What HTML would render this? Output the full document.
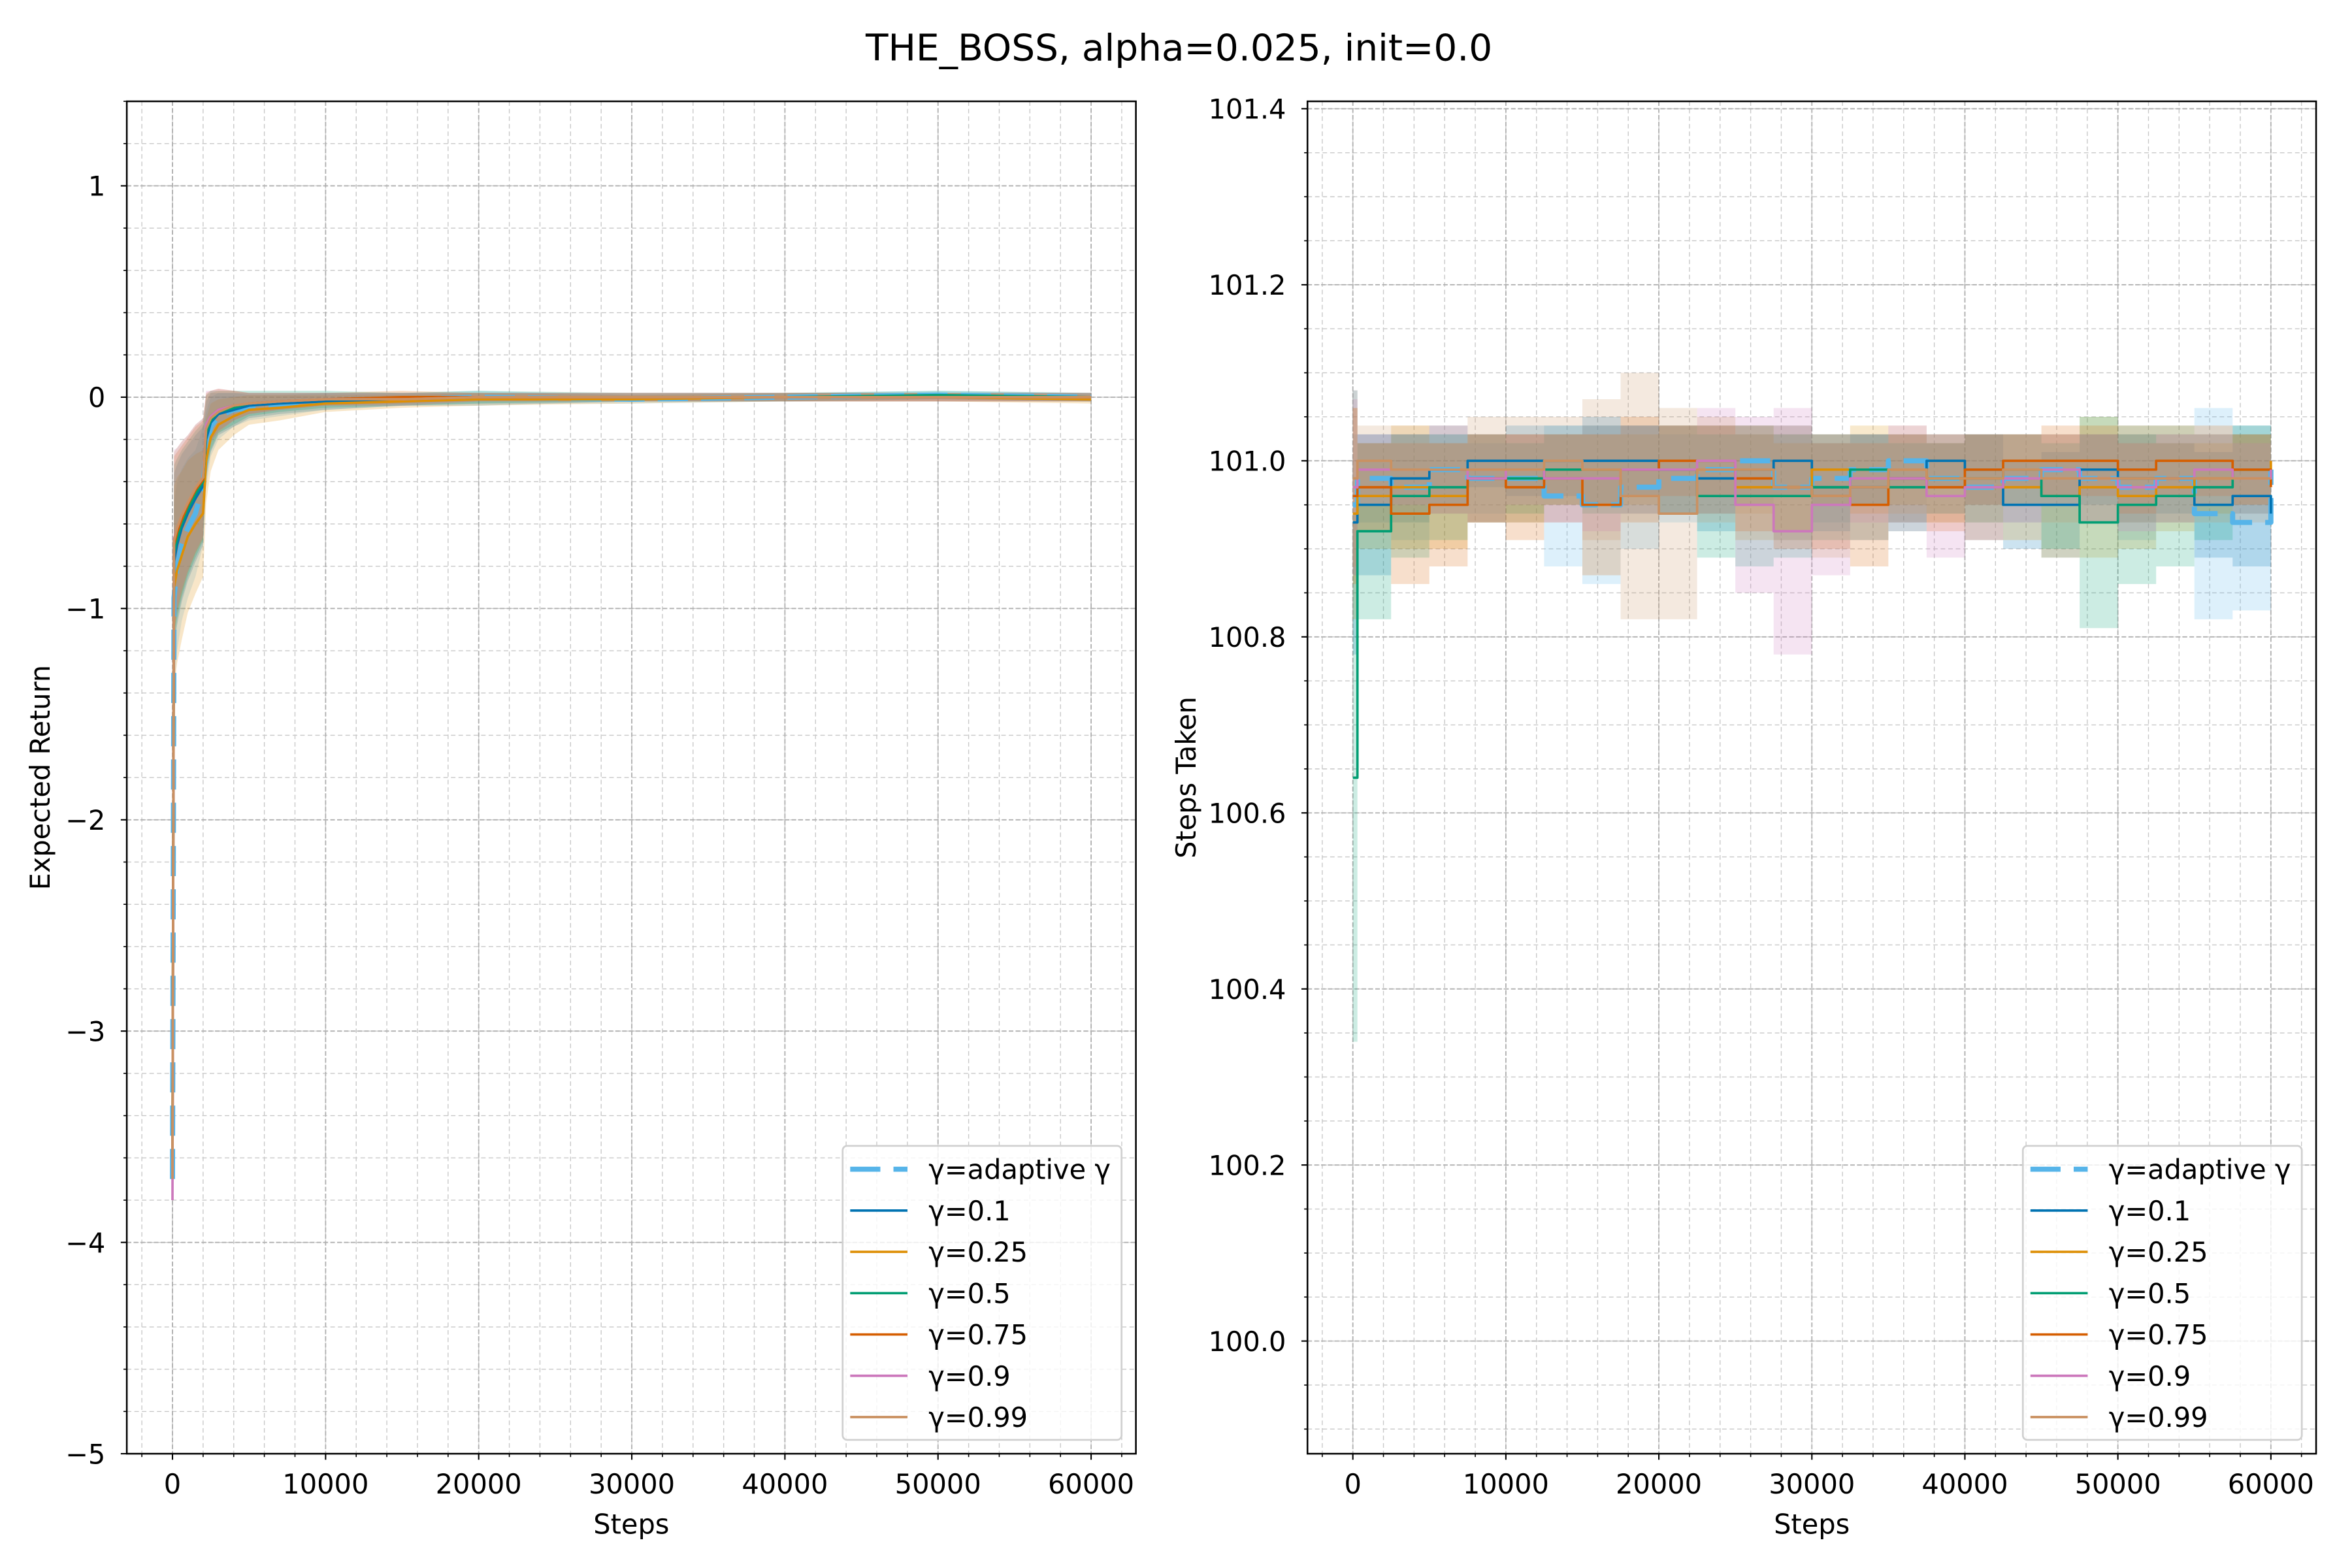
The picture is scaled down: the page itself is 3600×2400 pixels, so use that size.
<!DOCTYPE html>
<html><head><meta charset="utf-8"><style>html,body{margin:0;padding:0;background:#fff}svg{display:block}text{font-family:"DejaVu Sans","Liberation Sans",sans-serif}</style></head>
<body>
<svg id="fig" width="3600" height="2400" viewBox="0 0 1560 1040" xmlns="http://www.w3.org/2000/svg">
<rect width="1560" height="1040" fill="#fff"/>
<text x="782" y="40" text-anchor="middle" font-size="24.5">THE_BOSS, alpha=0.025, init=0.0</text>
</svg>
<script>
// ---- shared data ----
const seriesNames = ["γ=adaptive γ","γ=0.1","γ=0.25","γ=0.5","γ=0.75","γ=0.9","γ=0.99"];
const seriesColors = ["#56B4E9","#0173B2","#DE8F05","#029E73","#D55E00","#CC78BC","#CA9161"];
// left chart (Expected Return)
const leftSteps = [0,100,300,600,1000,1500,2000,2200,2500,3000,4000,5000,7000,10000,15000,20000,30000,40000,50000,60000];
const leftMeans = [
 [-3.7,-0.95,-0.8,-0.7,-0.62,-0.55,-0.42,-0.25,-0.14,-0.09,-0.06,-0.05,-0.04,-0.02,-0.01,0.0,-0.01,0.0,0.01,0.0],
 [-3.6,-0.78,-0.7,-0.62,-0.55,-0.48,-0.42,-0.2,-0.12,-0.08,-0.06,-0.04,-0.03,-0.02,-0.01,-0.01,0.0,0.0,0.0,0.0],
 [-3.65,-0.9,-0.82,-0.75,-0.66,-0.6,-0.55,-0.3,-0.19,-0.13,-0.09,-0.06,-0.05,-0.03,-0.02,-0.01,-0.01,0.0,0.0,-0.01],
 [-3.6,-0.74,-0.67,-0.6,-0.53,-0.46,-0.4,-0.17,-0.11,-0.07,-0.05,-0.03,-0.02,-0.01,-0.01,0.0,0.0,0.0,0.01,0.0],
 [-3.6,-0.7,-0.64,-0.58,-0.51,-0.44,-0.39,-0.14,-0.09,-0.06,-0.04,-0.03,-0.02,-0.01,0.0,0.0,0.0,0.0,0.0,0.0],
 [-3.8,-0.67,-0.62,-0.56,-0.5,-0.43,-0.38,-0.13,-0.09,-0.06,-0.04,-0.03,-0.02,-0.01,-0.01,0.0,0.0,0.0,0.0,0.0],
 [-3.7,-0.68,-0.62,-0.56,-0.5,-0.43,-0.38,-0.15,-0.1,-0.07,-0.04,-0.03,-0.02,-0.01,-0.01,0.0,0.0,0.0,0.0,0.0]
];
const leftSd = [
 [0.1,0.45,0.4,0.36,0.33,0.3,0.28,0.18,0.14,0.11,0.08,0.06,0.05,0.04,0.03,0.03,0.02,0.02,0.02,0.02],
 [0.1,0.42,0.38,0.35,0.32,0.3,0.28,0.18,0.14,0.1,0.08,0.06,0.05,0.04,0.03,0.03,0.02,0.02,0.02,0.02],
 [0.1,0.48,0.44,0.4,0.36,0.33,0.3,0.2,0.16,0.12,0.09,0.07,0.06,0.04,0.03,0.03,0.02,0.02,0.02,0.02],
 [0.1,0.42,0.38,0.35,0.32,0.3,0.28,0.18,0.14,0.1,0.08,0.06,0.05,0.04,0.03,0.03,0.02,0.02,0.02,0.02],
 [0.1,0.42,0.38,0.35,0.32,0.3,0.28,0.16,0.12,0.1,0.07,0.05,0.04,0.03,0.03,0.02,0.02,0.02,0.02,0.02],
 [0.1,0.42,0.38,0.35,0.32,0.3,0.28,0.16,0.12,0.1,0.07,0.05,0.04,0.03,0.03,0.02,0.02,0.02,0.02,0.02],
 [0.1,0.42,0.38,0.35,0.32,0.3,0.28,0.16,0.12,0.1,0.07,0.05,0.04,0.03,0.03,0.02,0.02,0.02,0.02,0.02]
];
const leftYTicks = [1,0,-1,-2,-3,-4,-5];
const xTicks = [0,10000,20000,30000,40000,50000,60000];
// right chart (Steps Taken)
const rightSteps = [0,300,2500,5000,7500,10000,12500,15000,17500,20000,22500,25000,27500,30000,32500,35000,37500,40000,42500,45000,47500,50000,52500,55000,57500,60000];
const rightMeans = [
 [100.95,100.98,100.97,100.99,100.98,100.98,100.96,100.95,100.97,100.98,100.99,101.0,100.97,100.98,100.99,101.0,100.98,100.97,100.98,100.99,100.98,100.97,100.98,100.94,100.93,100.99],
 [100.93,100.95,100.98,100.99,101.0,101.0,101.0,101.0,101.0,100.99,100.98,100.99,101.0,100.97,100.97,100.98,101.0,100.99,100.95,100.95,100.99,100.98,100.98,100.95,100.96,100.94],
 [100.94,100.96,100.97,100.96,100.98,100.98,100.99,100.99,100.99,100.99,100.99,100.97,100.97,100.99,100.99,100.99,100.98,100.97,100.97,100.96,100.97,100.96,100.97,100.98,100.99,101.0],
 [100.64,100.92,100.96,100.97,100.98,100.98,100.99,100.99,100.99,100.99,100.96,100.96,100.96,100.97,100.99,100.97,100.98,100.98,100.99,100.96,100.93,100.95,100.96,100.97,100.99,100.99],
 [100.96,100.97,100.94,100.95,100.98,100.97,100.98,100.95,100.99,101.0,101.0,100.98,100.97,100.96,100.95,100.98,100.97,100.99,101.0,101.0,101.0,100.99,101.0,101.0,100.99,100.97],
 [100.97,100.99,100.99,100.99,100.98,100.99,100.98,100.98,100.99,100.99,101.0,100.95,100.92,100.95,100.98,100.98,100.96,100.97,100.98,100.99,100.98,100.97,100.98,100.99,100.98,100.99],
 [100.98,101.0,100.99,100.99,100.99,100.99,101.0,100.99,100.96,100.94,100.99,100.99,100.97,100.96,100.97,100.99,100.98,100.98,100.99,100.98,100.98,100.98,100.98,100.98,100.98,100.98]
];
const rightSd = [
 [0.08,0.05,0.06,0.05,0.04,0.05,0.08,0.09,0.07,0.05,0.05,0.04,0.06,0.05,0.04,0.03,0.04,0.06,0.05,0.04,0.05,0.06,0.05,0.12,0.1,0.06],
 [0.15,0.08,0.05,0.04,0.03,0.04,0.04,0.05,0.04,0.05,0.06,0.04,0.04,0.05,0.06,0.05,0.03,0.04,0.05,0.06,0.04,0.05,0.04,0.06,0.08,0.07],
 [0.12,0.06,0.07,0.06,0.05,0.05,0.04,0.04,0.04,0.05,0.05,0.06,0.05,0.04,0.05,0.04,0.05,0.06,0.06,0.07,0.08,0.06,0.05,0.04,0.04,0.03],
 [0.3,0.1,0.07,0.06,0.05,0.04,0.04,0.05,0.05,0.05,0.07,0.08,0.07,0.06,0.04,0.05,0.04,0.05,0.04,0.06,0.12,0.09,0.08,0.06,0.05,0.04],
 [0.1,0.05,0.08,0.07,0.05,0.06,0.05,0.08,0.06,0.04,0.04,0.06,0.07,0.06,0.07,0.05,0.05,0.04,0.03,0.04,0.04,0.05,0.04,0.04,0.04,0.05],
 [0.1,0.04,0.04,0.05,0.05,0.04,0.05,0.06,0.05,0.05,0.06,0.1,0.14,0.08,0.05,0.06,0.07,0.06,0.05,0.04,0.05,0.05,0.05,0.04,0.04,0.04],
 [0.1,0.04,0.05,0.05,0.06,0.06,0.05,0.08,0.14,0.12,0.06,0.05,0.06,0.07,0.06,0.05,0.05,0.05,0.04,0.05,0.05,0.05,0.05,0.05,0.05,0.05]
];
const rightYTicks = [100.0,100.2,100.4,100.6,100.8,101.0,101.2,101.4];

const NS = "http://www.w3.org/2000/svg";
const svg = document.getElementById("fig");
function mk(tag, attrs, parent){ const e=document.createElementNS(NS,tag); for(const k in attrs) e.setAttribute(k,attrs[k]); (parent||svg).appendChild(e); return e; }

function drawAxes(cfg){
  const g = mk("g",{});
  
  
  const sx = v => cfg.x0 + (v-cfg.xmin)/(cfg.xmax-cfg.xmin)*(cfg.x1-cfg.x0);
  const sy = v => cfg.y1 - (v-cfg.ymin)/(cfg.ymax-cfg.ymin)*(cfg.y1-cfg.y0);
  const grid = mk("g",{},g);
  
  
  for(let v=Math.ceil(cfg.xmin/2000)*2000; v<=cfg.xmax; v+=2000){
    mk("line",{x1:sx(v),x2:sx(v),y1:cfg.y0,y2:cfg.y1,stroke:"#c8c8c8","stroke-width":0.6,"stroke-dasharray":"3,2"},grid);
    mk("line",{x1:sx(v),x2:sx(v),y1:cfg.y1,y2:cfg.y1+2.2,stroke:"#000","stroke-width":0.7},g);
  }
  const ys = cfg.minorY;
  for(let i=Math.ceil(cfg.ymin/ys-1e-6); i*ys<=cfg.ymax+1e-9; i++){
    const v=i*ys;
    mk("line",{x1:cfg.x0,x2:cfg.x1,y1:sy(v),y2:sy(v),stroke:"#c8c8c8","stroke-width":0.6,"stroke-dasharray":"3,2"},grid);
    mk("line",{x1:cfg.x0-2.2,x2:cfg.x0,y1:sy(v),y2:sy(v),stroke:"#000","stroke-width":0.7},g);
  }
  xTicks.forEach(v=>{
    mk("line",{x1:sx(v),x2:sx(v),y1:cfg.y0,y2:cfg.y1,stroke:"#b0b0b0","stroke-width":0.8,"stroke-dasharray":"3,1.5"},grid);
    mk("line",{x1:sx(v),x2:sx(v),y1:cfg.y1,y2:cfg.y1+4,stroke:"#000","stroke-width":0.9},g);
    const t=mk("text",{x:sx(v),y:cfg.y1+26.4,"text-anchor":"middle","font-size":18},g);
    
    
    t.textContent=String(v);
  });
  cfg.yTicks.forEach(v=>{
    mk("line",{x1:cfg.x0,x2:cfg.x1,y1:sy(v),y2:sy(v),stroke:"#b0b0b0","stroke-width":0.8,"stroke-dasharray":"3,1.5"},grid);
    mk("line",{x1:cfg.x0-4,x2:cfg.x0,y1:sy(v),y2:sy(v),stroke:"#000","stroke-width":0.9},g);
    const t=mk("text",{x:cfg.x0-14.2,y:sy(v)+6.6,"text-anchor":"end","font-size":18},g);
    
    
    t.textContent=cfg.fmt(v);
  });
  const clipId = cfg.name+"-clip";
  const cp = mk("clipPath",{id:clipId},g);
  mk("rect",{x:cfg.x0,y:cfg.y0,width:cfg.x1-cfg.x0,height:cfg.y1-cfg.y0},cp);
  const plot = mk("g",{"clip-path":"url(#"+clipId+")"},g);
  const step = cfg.step;
  cfg.means.forEach((m,si)=>{
    const sd=cfg.sds[si]; let top=[], bot=[];
    for(let i=0;i<cfg.xs.length;i++){
      const x=sx(cfg.xs[i]), xn = i<cfg.xs.length-1? sx(cfg.xs[i+1]) : x;
      top.push([x,sy(m[i]+sd[i])]); bot.push([x,sy(m[i]-sd[i])]);
      if(step && i<cfg.xs.length-1){ top.push([xn,sy(m[i]+sd[i])]); bot.push([xn,sy(m[i]-sd[i])]); }
    }
    const pts = top.concat(bot.reverse()).map(p=>p[0].toFixed(2)+","+p[1].toFixed(2)).join(" ");
    const b=mk("polygon",{points:pts,fill:seriesColors[si],"fill-opacity":cfg.bandOpacity,stroke:"none"},plot);
    
    
  });
  cfg.means.forEach((m,si)=>{
    let pts=[];
    for(let i=0;i<cfg.xs.length;i++){
      pts.push([sx(cfg.xs[i]),sy(m[i])]);
      if(step && i<cfg.xs.length-1) pts.push([sx(cfg.xs[i+1]),sy(m[i])]);
    }
    const attrs={points:pts.map(p=>p[0].toFixed(2)+","+p[1].toFixed(2)).join(" "),fill:"none",stroke:seriesColors[si],"stroke-width":si===0?3.4:1.6,"stroke-linejoin":"round"};
    if(si===0) attrs["stroke-dasharray"]="20,8.7";
    const l=mk("polyline",attrs,plot);
    
    
  });
  mk("rect",{x:cfg.x0,y:cfg.y0,width:cfg.x1-cfg.x0,height:cfg.y1-cfg.y0,fill:"none",stroke:"#000","stroke-width":1.1},g);
  const xl=mk("text",{x:(cfg.x0+cfg.x1)/2,y:cfg.y1+53,"text-anchor":"middle","font-size":18},g);
  
  
  xl.textContent="Steps";
  const yl=mk("text",{x:cfg.ylabX,y:(cfg.y0+cfg.y1)/2,"text-anchor":"middle","font-size":18,transform:"rotate(-90 "+cfg.ylabX+" "+(cfg.y0+cfg.y1)/2+")"},g);
  
  
  yl.textContent=cfg.ylabel;
  const lg=mk("g",{},g);
  
  
  const lx=cfg.x1-194.5;
  mk("rect",{x:lx,y:760,width:185,height:195,rx:3,fill:"#fff","fill-opacity":0.8,stroke:"#d0d0d0","stroke-width":1.2},lg);
  seriesNames.forEach((n,i)=>{
    const yy=775.5+i*27.4;
    const a={x1:lx+5,x2:lx+43,y1:yy,y2:yy,stroke:seriesColors[i],"stroke-width":i===0?3.4:1.6};
    if(i===0) a["stroke-dasharray"]="20,8.7";
    const ln=mk("line",a,lg);
    
    
    const t=mk("text",{x:lx+57,y:yy+6.5,"font-size":18},lg);
    
    
    t.textContent=n;
  });
}

drawAxes({name:"left-chart",x0:84.1,x1:753.4,y0:67.2,y1:964.2,xmin:-2984,xmax:62925,ymin:-5,ymax:1.4,minorY:0.2,
  yTicks:leftYTicks,fmt:v=>v<0?"\u2212"+Math.abs(v):String(v),xs:leftSteps,means:leftMeans,sds:leftSd,step:false,bandOpacity:0.22,
  ylabel:"Expected Return",ylabX:33});
drawAxes({name:"right-chart",x0:867.2,x1:1536.2,y0:67.2,y1:964.2,xmin:-2966,xmax:62956,ymin:99.872,ymax:101.4084,minorY:0.05,
  yTicks:rightYTicks,fmt:v=>v.toFixed(1),xs:rightSteps,means:rightMeans,sds:rightSd,step:true,bandOpacity:0.2,
  ylabel:"Steps Taken",ylabX:793});
</script>
</body></html>
